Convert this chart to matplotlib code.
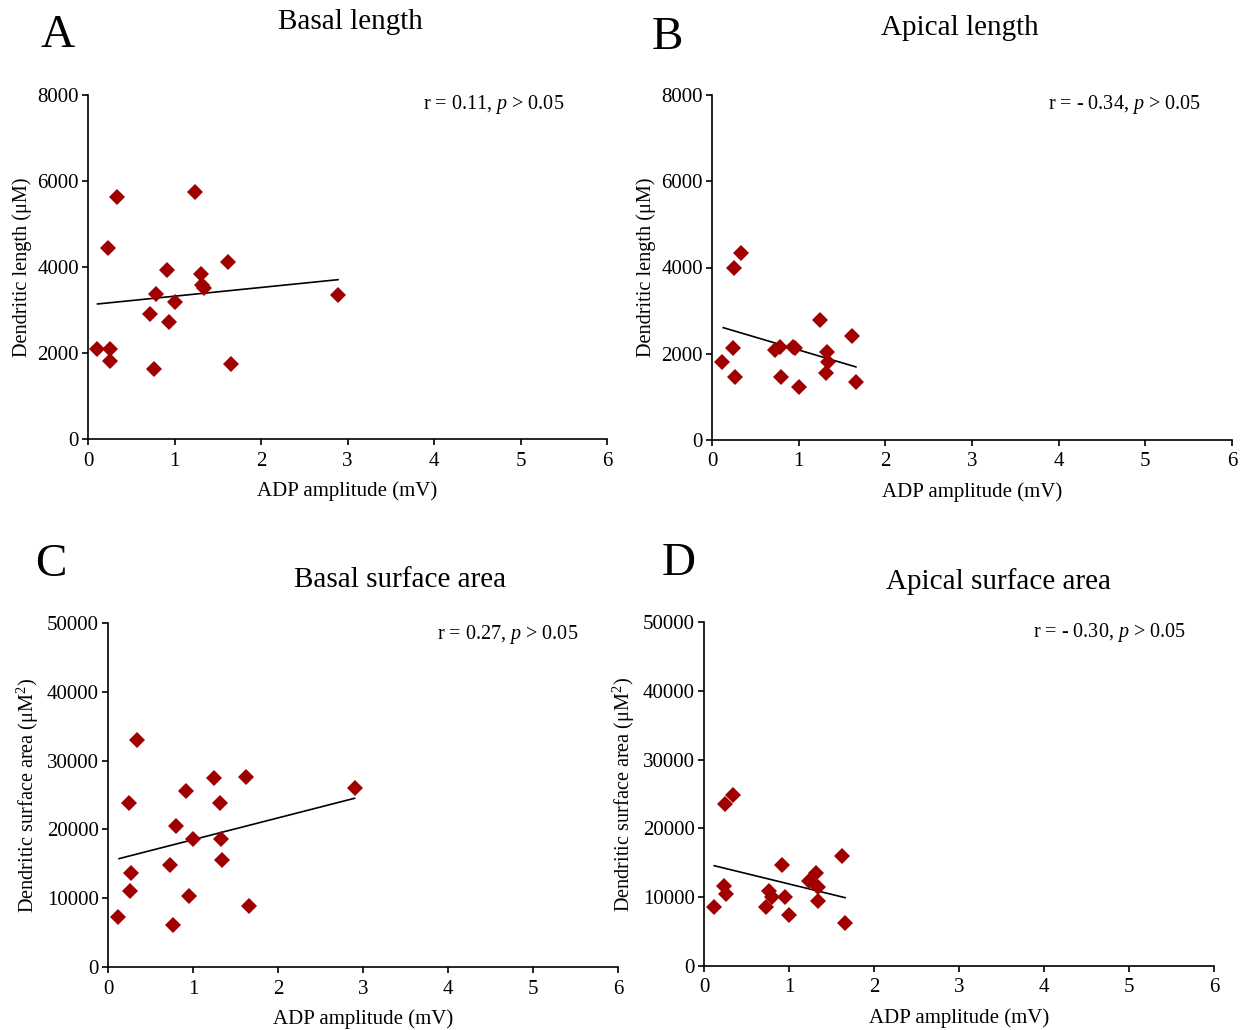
import matplotlib
matplotlib.use("Agg")
import matplotlib.pyplot as plt

plt.rcParams["font.family"] = ["Liberation Serif", "DejaVu Serif"]
plt.rcParams["mathtext.fontset"] = "custom"
plt.rcParams["mathtext.rm"] = "Liberation Serif"
plt.rcParams["mathtext.it"] = "Liberation Serif:italic"

# Colors
marker_red = "#A00000"
black = "#000000"

# A: basal dendritic length vs ADP amplitude
basal_adp = [0.33, 1.24, 0.23, 1.615, 0.91, 1.31, 1.32, 1.34, 0.79, 1.00,
             2.89, 0.72, 0.94, 0.10, 0.25, 0.25, 0.76, 1.65]
basal_len = [5620, 5745, 4450, 4110, 3925, 3840, 3580, 3510, 3370, 3185,
             3350, 2905, 2730, 2100, 2095, 1810, 1630, 1740]
basal_len_fit_x = [0.11, 2.89]
basal_len_fit_y = [3140, 3705]

# B: apical dendritic length vs ADP amplitude
apical_adp = [0.34, 0.25, 1.25, 1.62, 0.24, 0.12, 0.27, 0.73, 0.79, 0.94,
              0.96, 1.33, 1.34, 1.32, 0.80, 1.00, 1.66]
apical_len = [4345, 3980, 2785, 2405, 2125, 1800, 1465, 2085, 2150, 2165,
              2140, 2050, 1815, 1545, 1465, 1235, 1345]
apical_len_fit_x = [0.13, 1.66]
apical_len_fit_y = [2605, 1695]

# C: basal surface area vs ADP amplitude
basal_area_adp = [0.34, 1.25, 1.62, 2.90, 0.92, 0.25, 1.32, 0.80, 1.00,
                  1.33, 1.34, 0.73, 0.27, 0.26, 0.95, 1.66, 0.12, 0.76]
basal_area = [33040, 27470, 27620, 25970, 25580, 23840, 23890, 20450, 18560,
              18650, 15510, 14780, 13710, 11050, 10270, 8820, 7270, 6150]
basal_area_fit_x = [0.13, 2.90]
basal_area_fit_y = [15750, 24520]

# D: apical surface area vs ADP amplitude
apical_area_adp = [0.34, 0.25, 1.62, 0.92, 1.32, 1.24, 1.34, 0.24, 0.26,
                   0.76, 0.80, 0.95, 1.34, 0.12, 0.73, 1.00, 1.66]
apical_area = [24850, 23550, 15940, 14720, 13560, 12400, 11440, 11630, 10470,
               10940, 10080, 9990, 9450, 8620, 8620, 7360, 6290]
apical_area_fit_x = [0.12, 1.66]
apical_area_fit_y = [14580, 9930]

W, H = 1247, 1030
fig = plt.figure(figsize=(W / 100, H / 100), dpi=100, facecolor="white")


def px_axes(left, top, right, bottom):
    return fig.add_axes([left / W, 1 - bottom / H, (right - left) / W, (bottom - top) / H])


panels = [
    # (axes box px, x, y, fit x, fit y, ymax, ystep, ylabel)
    ((88, 95, 607, 439), basal_adp, basal_len, basal_len_fit_x, basal_len_fit_y,
     8000, 2000, "Dendritic length (\u03bcM)"),
    ((712, 95, 1232, 440), apical_adp, apical_len, apical_len_fit_x, apical_len_fit_y,
     8000, 2000, "Dendritic length (\u03bcM)"),
    ((108, 623, 618, 967), basal_area_adp, basal_area, basal_area_fit_x, basal_area_fit_y,
     50000, 10000, "Dendritic surface area (\u03bcM$^2$)"),
    ((704, 622, 1214, 966), apical_area_adp, apical_area, apical_area_fit_x, apical_area_fit_y,
     50000, 10000, "Dendritic surface area (\u03bcM$^2$)"),
]

for box, xs, ys, fx, fy, ymax, ystep, ylabel in panels:
    ax = px_axes(*box)
    ax.plot(fx, fy, color=black, lw=1.2, zorder=2)
    ax.plot(xs, ys, linestyle="none", marker="D", ms=8.5, color=marker_red,
            markeredgewidth=0, zorder=3)
    ax.set_xlim(0, 6)
    ax.set_ylim(0, ymax)
    ax.set_xticks(range(0, 7))
    ax.set_yticks(range(0, ymax + 1, ystep))
    for side in ("top", "right"):
        ax.spines[side].set_visible(False)
    for side in ("left", "bottom"):
        ax.spines[side].set_linewidth(1.2)
    ax.tick_params(direction="out", length=4.5, width=1.2, labelsize=15)
    ax.tick_params(axis="x", pad=4.5)
    ax.tick_params(axis="y", length=4, pad=2.5)
    ax.set_xlabel("ADP amplitude (mV)", fontsize=15, labelpad=8)
    ax.set_ylabel(ylabel, fontsize=14.6, labelpad=4)


def ftext(x, y, s, **kw):
    fig.text(x / W, 1 - y / H, s, **kw)


# Panel letters
for x, y, s in [(58, 36, "A"), (667, 38, "B"), (51, 565, "C"), (679, 564, "D")]:
    ftext(x, y, s, fontsize=34, ha="center", va="center")

# Panel titles
ftext(350, 22, "Basal length", fontsize=21, ha="center", va="center")
ftext(960, 28, "Apical length", fontsize=21, ha="center", va="center")
ftext(400, 580, "Basal surface area", fontsize=21, ha="center", va="center")
ftext(998, 582, "Apical surface area", fontsize=21, ha="center", va="center")

# Correlation statistics
ftext(423, 105, "r = 0.11, $p$ > 0.05", fontsize=14.5, ha="left", va="center")
ftext(1048, 105, "r = - 0.34, $p$ > 0.05", fontsize=14.5, ha="left", va="center")
ftext(437, 634, "r = 0.27, $p$ > 0.05", fontsize=14.5, ha="left", va="center")
ftext(1033, 633, "r = - 0.30, $p$ > 0.05", fontsize=14.5, ha="left", va="center")

fig.savefig("out.png", dpi=100, facecolor="white")
